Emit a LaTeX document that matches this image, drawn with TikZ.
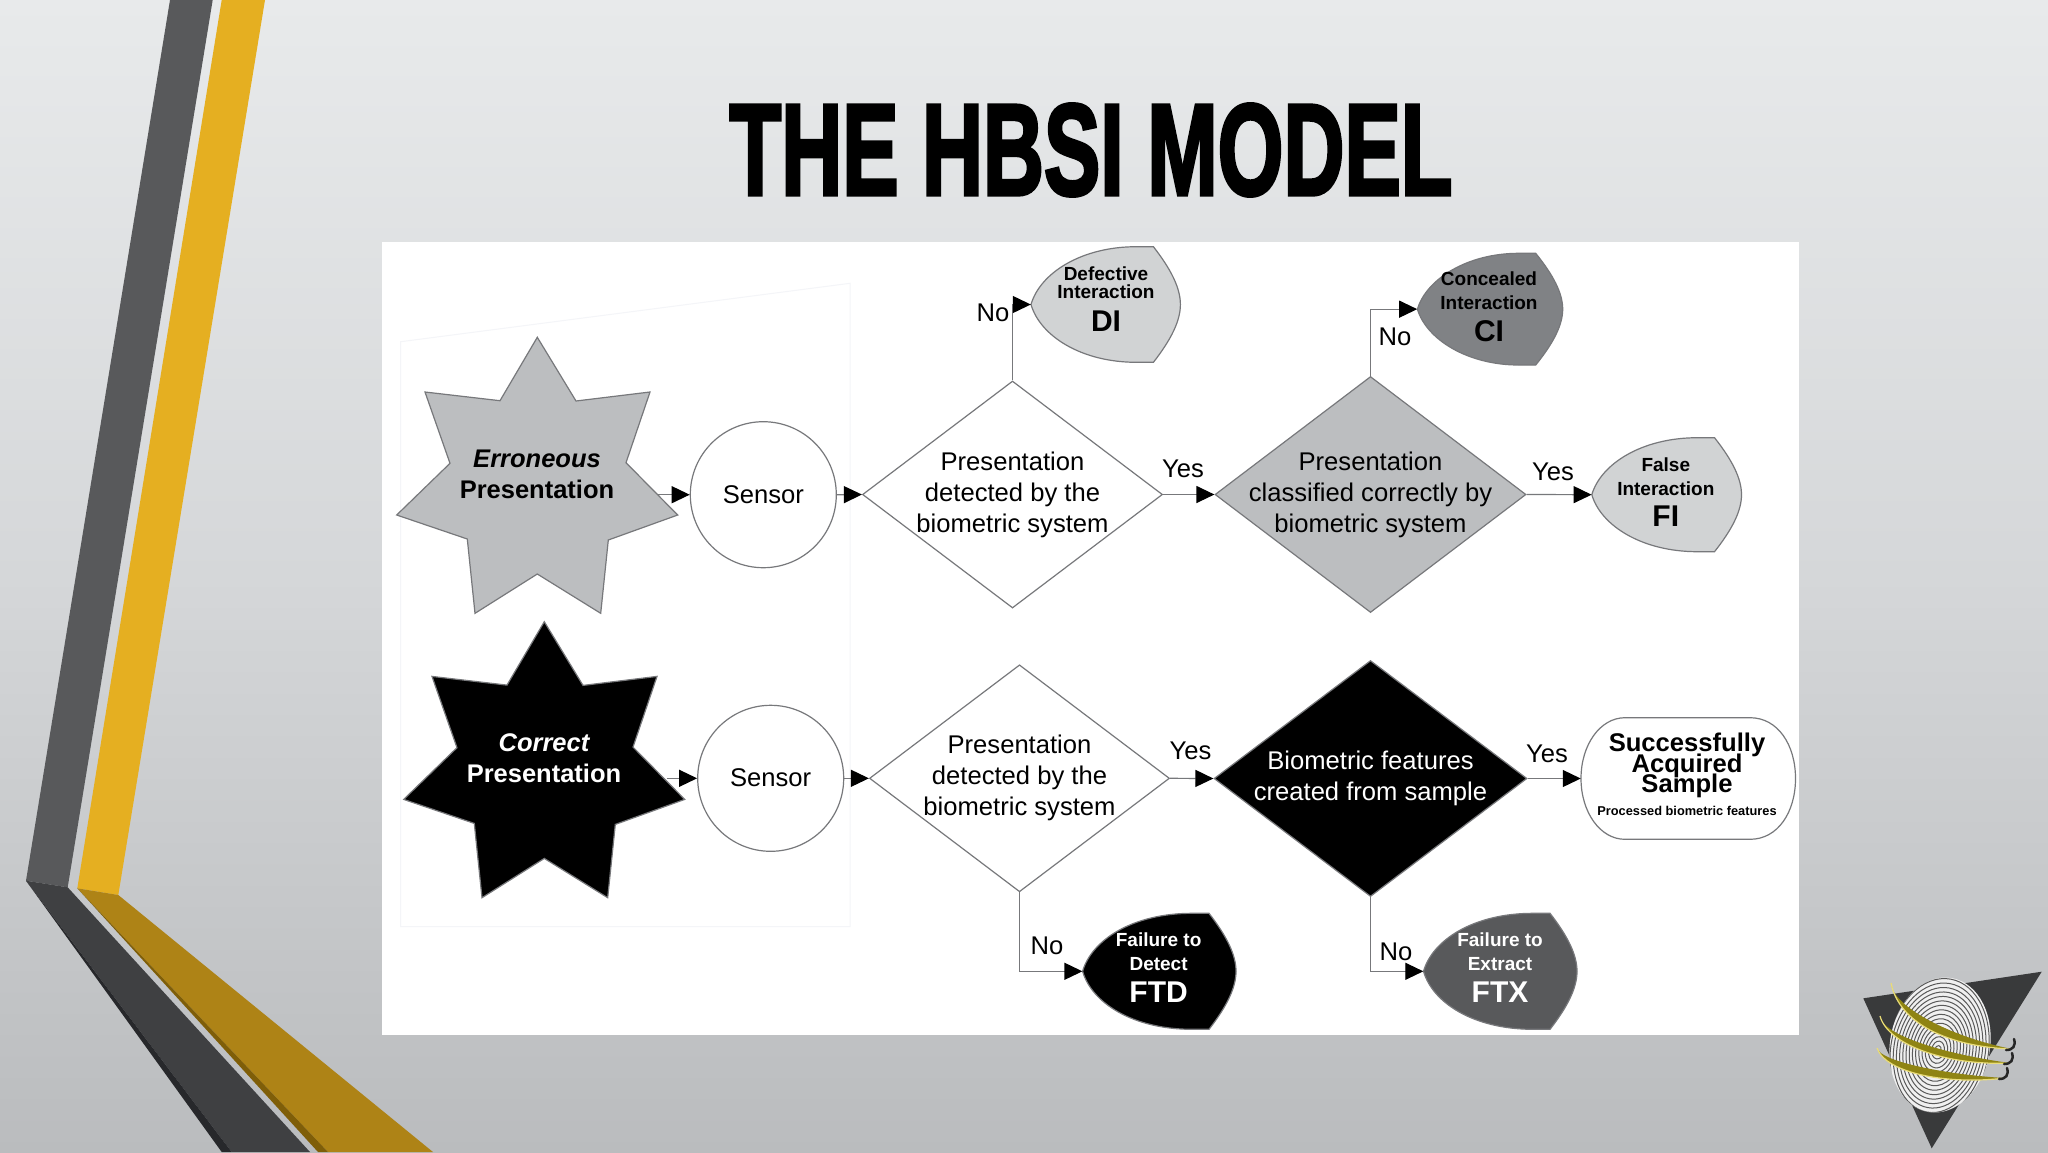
\documentclass[tikz,border=0pt]{standalone}
\usepackage{fontspec}
\setmainfont{Liberation Sans}
\newfontfamily\titlefont[FakeBold=3]{Liberation Sans Bold}
\usetikzlibrary{arrows.meta,shapes.geometric,calc}
\definecolor{bgtop}{HTML}{E8EAEB}
\definecolor{bgmid}{HTML}{D5D7D9}
\definecolor{bgbot}{HTML}{BABCBE}
\definecolor{ribgray}{HTML}{58595B}
\definecolor{ribdark}{HTML}{3F4042}
\definecolor{ribdarker}{HTML}{27282B}
\definecolor{ribgold}{HTML}{E5AF21}
\definecolor{ribgoldd}{HTML}{AE8316}
\definecolor{ribgolddd}{HTML}{7F5E08}
\definecolor{ringolive}{HTML}{8F8413}
\definecolor{ringlight}{HTML}{E9DC78}
\definecolor{edgegray}{HTML}{77787B}
\definecolor{lightfill}{HTML}{D1D3D4}
\definecolor{midfill}{HTML}{BCBEC0}
\definecolor{ctgray}{HTML}{808285}
\definecolor{ftxgray}{HTML}{58595B}
\definecolor{framefaint}{HTML}{F4F5F8}
\tikzset{
  x=1pt,y=-1pt,
  edgeline/.style={draw=edgegray,line width=1.2pt},
  flow/.style={edgeline,-{Triangle[length=18pt,width=17pt,fill=black,color=black]}},
  sens/.style={circle,edgeline,fill=white,minimum size=146pt,inner sep=0pt,font=\fontsize{25.6}{31}\selectfont},
  dec/.style={diamond,aspect=1.32,inner sep=-30pt,align=center,font=\fontsize{25.6}{31}\selectfont},
  lbl/.style={inner sep=0pt,font=\fontsize{25.6}{31}\selectfont},
  captxt/.style={inner sep=0pt,align=center,font=\fontsize{19}{17.4}\selectfont\bfseries},
  captwo/.style={inner sep=0pt,align=center,font=\fontsize{19}{24}\selectfont\bfseries},
  sastext/.style={inner sep=0pt,align=center,font=\fontsize{25.6}{20.4}\selectfont\bfseries},
  starlbl/.style={inner sep=0pt,align=center,font=\fontsize{25.5}{31}\selectfont\bfseries},
  termbox/.style={inner sep=0pt,draw=none},
}
% name, left, right, top, bottom, fill
\newcommand{\dispnode}[6]{%
  \pgfmathsetmacro{\mymid}{(#4+#5)/2}%
  \pgfmathsetmacro{\myh}{#5-#4}%
  \pgfmathsetmacro{\mycx}{(#2+#3)/2}%
  \pgfmathsetmacro{\myw}{#3-#2}%
  \draw[edgeline,fill=#6]
    (#2,\mymid) .. controls ({#2+9},{\mymid-0.27*\myh}) and ({#2+50},#4) .. ({#3-44},#4)
    -- ({#3-27},#4) .. controls ({#3-9},{#4+0.2*\myh}) and (#3,{#4+0.36*\myh}) .. (#3,\mymid)
    .. controls (#3,{#5-0.36*\myh}) and ({#3-9},{#5-0.2*\myh}) .. ({#3-27},#5)
    -- ({#3-44},#5) .. controls ({#2+50},#5) and ({#2+9},{\mymid+0.27*\myh}) .. (#2,\mymid) -- cycle;
  \node[termbox,minimum width=\myw pt,minimum height=\myh pt] (#1) at (\mycx,\mymid) {};%
}
\newcommand{\starshape}[3]{%
  \draw[edgeline,shift={(#1,#2)},fill=#3]
   (537.3,337.3)--(576,401)--(650,392)--(626,462.7)--(677.7,515)--(608.3,540)--(600.7,613.3)--(537.3,574)--(475,613.3)--(467.3,539)--(396.7,515)--(450,463.3)--(425,392)--(500,400.7)--cycle;%
}
\begin{document}
\begin{tikzpicture}
\useasboundingbox (0,0) rectangle (2048,1152);
\shade[top color=bgtop,bottom color=bgbot,middle color=bgmid] (0,0) rectangle (2048,1152);
% ribbons
\fill[ribgray] (170,0) -- (212.7,0) -- (67.7,887.3) -- (26,880.7) -- cycle;
\fill[ribgold] (221.7,0) -- (265,0) -- (118.3,895) -- (77.3,888.3) -- cycle;
\fill[ribdark] (26,880.7) -- (67.7,887.3) -- (310,1152) -- (231.7,1152) -- cycle;
\fill[ribdarker] (26,880.7) -- (231.7,1152) -- (221.7,1152) -- cycle;
\fill[ribgoldd] (77.3,888.3) -- (118.3,895) -- (433,1152) -- (328,1152) -- cycle;
\fill[ribgolddd] (77.3,888.3) -- (328,1152) -- (318,1152) -- cycle;
% title
\node[inner sep=0pt] (title) at (1091,150) {\scalebox{0.65}[1]{\titlefont\fontsize{130}{130}\selectfont THE HBSI MODEL}};
% panel
\fill[white] (382,242) rectangle (1799,1035);
\draw[framefaint,line width=1pt] (400.7,341.7) -- (850,283.3) -- (850,926.7) -- (400.7,926.7) -- cycle;
% stars
\starshape{0}{0}{midfill}
\starshape{7}{284.4}{black}
\node[starlbl] (star1txt) at (537,474.5) {\itshape Erroneous\\Presentation};
\node[starlbl,text=white] (star2txt) at (544,758.5) {\itshape Correct\\\upshape Presentation};
\coordinate (s1out) at (658,494.7);
\coordinate (s2out) at (666.7,778.3);
% sensors
\node[sens] (sensor1) at (763.3,494.7) {Sensor};
\node[sens] (sensor2) at (770.7,778.3) {\raisebox{1pt}{Sensor}};
% diamonds
\node[dec,edgeline,fill=white,minimum width=300pt,minimum height=227pt] (d1) at (1012.5,494.5) {Presentation\\detected by the\\biometric system};
\node[dec,edgeline,fill=midfill,minimum width=311pt,minimum height=236pt] (d2) at (1370.5,494.5) {Presentation\\classified correctly by\\biometric system};
\node[dec,edgeline,fill=white,minimum width=300pt,minimum height=227pt] (d3) at (1019.5,778.3) {Presentation\\detected by the\\biometric system};
\node[dec,edgeline,fill=black,text=white,minimum width=313pt,minimum height=236pt] (d4) at (1370.5,778.5) {Biometric features\\created from sample};
% terminators
\dispnode{di}{1031}{1180.4}{246.7}{362.3}{lightfill}
\dispnode{ci}{1417.4}{1562.7}{253.3}{365}{ctgray}
\dispnode{fi}{1591.8}{1741.5}{437.7}{551.7}{lightfill}
\dispnode{ftd}{1082.6}{1236}{913.3}{1029.3}{black}
\dispnode{ftx}{1423.5}{1577}{913.3}{1029.3}{ftxgray}
% success
\draw[edgeline,fill=white] (1581,778.5) .. controls (1581,745) and (1600,717.7) .. (1625,717.7) -- (1750,717.7)
  .. controls (1778,717.7) and (1795.5,745) .. (1795.5,778.5)
  .. controls (1795.5,812) and (1778,839.3) .. (1750,839.3) -- (1625,839.3)
  .. controls (1600,839.3) and (1581,812) .. (1581,778.5) -- cycle;
\node[termbox,minimum width=214.5pt,minimum height=121.6pt] (sas) at (1688.2,778.5) {};
% terminator texts
\node[captxt] (ditxt) at (1106,299) {Defective\\Interaction\\[11pt]{\fontsize{30}{30}\selectfont DI}};
\node[captwo] (citxt) at (1489,307) {Concealed\\Interaction\\[8pt]{\fontsize{30}{30}\selectfont CI}};
\node[captwo] (fitxt) at (1665.8,492) {False\\Interaction\\[7.5pt]{\fontsize{30}{30}\selectfont FI}};
\node[captwo,text=white] (ftdtxt) at (1158.6,968) {Failure to\\Detect\\[8pt]{\fontsize{30}{30}\selectfont FTD}};
\node[captwo,text=white] (ftxtxt) at (1500,968) {Failure to\\Extract\\[8pt]{\fontsize{30}{30}\selectfont FTX}};
\node[sastext] (sastxt) at (1687,765.5) {Successfully\\[-4.3pt]Acquired\\[-4.3pt]Sample};
\node[inner sep=0pt,font=\fontsize{12.8}{14}\selectfont\bfseries] (sassub) at (1687,810.7) {Processed biometric features};
% connectors
\draw[flow] (s1out) -- (sensor1.west);
\draw[flow] (s2out) -- (sensor2.west);
\draw[flow] (sensor1.east) -- (d1.west);
\draw[flow] (sensor2.east) -- (d3.west);
\draw[flow] (d1.east) -- (d2.west);
\draw[flow] (d3.east) -- (d4.west);
\draw[flow] (d2.east) -- (fi.west);
\draw[flow] (d4.east) -- (sas.west);
\draw[flow] (d1.north) |- (di.west);
\draw[flow] (d2.north) |- (ci.west);
\draw[flow] (d3.south) |- (ftd.west);
\draw[flow] (d4.south) |- (ftx.west);
% labels
\node[lbl] (no1) at (993,312.7) {No};
\node[lbl] (no2) at (1395,337) {No};
\node[lbl] (yes1) at (1183,469.3) {Yes};
\node[lbl] (yes2) at (1553,472.3) {Yes};
\node[lbl] (yes3) at (1190.6,750.7) {Yes};
\node[lbl] (yes4) at (1547,754) {Yes};
\node[lbl] (no3) at (1047,945.7) {No};
\node[lbl] (no4) at (1396,952.3) {No};
% logo
\fill[ribdark!90!black] (1863.3,998.3) -- (2041.7,971.7) -- (1931.7,1148.3) -- cycle;
\begin{scope}
  \clip[rotate around={-10:(1940,1045)}] (1940,1045) ellipse [x radius=50,y radius=68];
  \fill[white!88!gray] (1860,960) rectangle (2020,1130);
  \foreach \r in {4.5,9,...,90} {
    \draw[black!65,line width=1pt,rotate around={-10:(1938,1050)}] (1938,1050) ellipse [x radius=0.7*\r,y radius=\r];
  }
\end{scope}
\foreach \sx/\sy/\ex/\ey/\ax/\ay/\bx/\by/\cx/\cy/\dx/\dy in {
  1891/983/2012/1049/1892/1006/1950/1037/1950/1047/1899/1024,
  1880/1016/2010/1063/1882/1036/1950/1055/1950/1066/1888/1046,
  1877/1048/2005/1078/1880/1062/1950/1075/1950/1085/1886/1074}{
  \fill[ringolive] (\sx,\sy) .. controls (\ax,\ay) and (\bx,\by) .. (\ex,\ey)
     .. controls (\cx,\cy) and (\dx,\dy) .. (\sx,\sy) -- cycle;
  \draw[ringlight,line width=1.2pt] (\ex,\ey) .. controls (\cx,\cy) and (\dx,\dy) .. (\sx,\sy);
  \draw[black!85,line width=2.5pt,line cap=round] ({\ex-6},{\ey+1}) .. controls ({\ex+1},{\ey+1}) and ({\ex+4},{\ey-3}) .. ({\ex+2},{\ey-10});
}
\end{tikzpicture}
\end{document}
